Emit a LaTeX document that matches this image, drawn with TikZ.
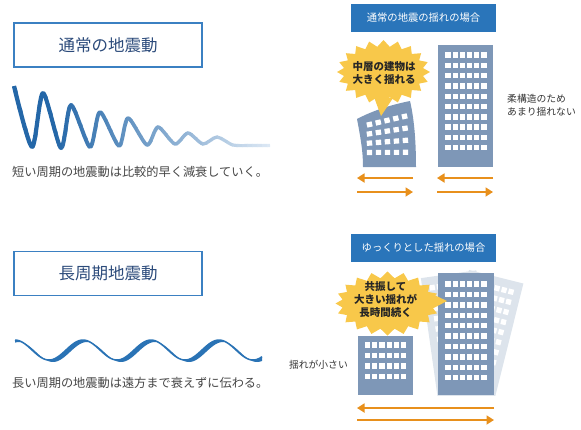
\documentclass[tikz,border=0pt]{standalone}
\usepackage{fontspec}
\newfontfamily\jp{Noto Sans CJK JP}
\usetikzlibrary{arrows.meta}

\definecolor{framecol}{HTML}{3B80C2}
\definecolor{titlecol}{HTML}{2B4A7A}
\definecolor{headcol}{HTML}{2A75BA}
\definecolor{bldcol}{HTML}{7E97B7}
\definecolor{ghostcol}{HTML}{DDE4EC}
\definecolor{burstcol}{HTML}{F8C84A}
\definecolor{arrowcol}{HTML}{E8901C}
\definecolor{captcol}{HTML}{454545}
\definecolor{qdark}{HTML}{2467A8}
\definecolor{qlight}{HTML}{DCE8F4}
\definecolor{wavecol}{HTML}{2A73B5}

\tikzset{
  titlebox/.style={draw=framecol, line width=1.8pt, minimum width=188pt,
    minimum height=44pt, inner sep=0pt, text=titlecol,
    font=\jp\fontsize{16.5}{18}\selectfont},
  headbox/.style={fill=headcol, minimum width=145pt, minimum height=28pt,
    inner sep=0pt, text=white, font=\jp\fontsize{10.3}{12}\selectfont},
  caption/.style={text=captcol, font=\jp\fontsize{12.2}{13}\selectfont,
    inner sep=0pt, anchor=west},
  note/.style={text=black!80, font=\jp\fontsize{9.8}{12}\selectfont,
    inner sep=0pt},
  bursttext/.style={text=black!85, font=\jp\bfseries\fontsize{10.5}{13}\selectfont,
    align=center, inner sep=0pt},
  winfill/.style={fill=white},
  shake/.style={draw=arrowcol, line width=1.7pt,
    -{Triangle[length=7.5pt,width=9pt]}},
}

\begin{document}
\begin{tikzpicture}[x=1pt, y=-1pt]
\useasboundingbox (0,0) rectangle (581,429);

% ---------- titles ----------
\node[titlebox] (shortT) at (108,45) {通常の地震動};
\node[titlebox] (longT) at (108,273.5) {長周期地震動};

% ---------- decaying short-period wave ----------
\foreach \i in {0,...,52} {
  \pgfmathsetmacro\xa{12+5*\i}
  \pgfmathtruncatemacro\p{max(0,min(100,(268-\xa)/2.15))}
  \pgfmathsetmacro\lw{4.3-\i*0.025}
  \begin{scope}
    \clip (\xa,70) rectangle ({\xa+5.5},160);
    \draw[qdark!\p!qlight, line width=\lw pt, line join=round]
      plot[smooth, tension=0.45] coordinates {(14,86) (32,147) (43,93) (61,148)
        (71,105) (90,147) (100,112) (119,146) (128,118) (147,145) (158,127)
        (175,144) (188,133) (203,144) (217,137) (233,145) (250,145.5) (270,145.5)};
  \end{scope}
}
\node[caption] (shortC) at (12,172) {短い周期の地震動は比較的早く減衰していく。};

% ---------- long-period ribbon wave (period 68) ----------
\fill[wavecol]
  plot[domain=15:262, samples=160] (\x, {350-10*cos(5.29412*(\x-15))})
  -- plot[domain=262:15, samples=160] (\x, {352-10*cos(5.29412*(\x-19))})
  -- cycle;
\draw[wavecol, line width=1.5pt]
  plot[domain=15:262, samples=160] (\x, {350-10*cos(5.29412*(\x-15))});
\node[caption] (longC) at (12,383) {長い周期の地震動は遠方まで衰えずに伝わる。};

% ---------- upper right: ordinary shaking ----------
\node[headbox] (headA) at (423.5,18) {通常の地震の揺れの場合};

% tall flexible building
\fill[bldcol] (438,45) rectangle (493,167);
\foreach \r in {0,...,9} \foreach \c in {0,...,5}
  \fill[winfill] ({448+7.2*\c-2.6},{55+10.3*\r-2.7}) rectangle ++(5.2,5.4);

% bending mid-rise building
\fill[bldcol] (363,167) -- (416,167)
  .. controls (416,140) and (414,118) .. (410,101)
  .. controls (390,105) and (372,111) .. (357,119)
  .. controls (360,135) and (363,150) .. (363,167) -- cycle;
\foreach \r in {0,...,3} \foreach \c in {0,...,4} {
  \pgfmathsetmacro\ang{13-4.3*\r}
  \pgfmathsetmacro\wx{369.5+9*\c*cos(\ang)}
  \pgfmathsetmacro\wy{124.5+9.3*\r-9*\c*sin(\ang)}
  \fill[winfill, rotate around={\ang:(\wx,\wy)}] (\wx-2.7,\wy-2.6) rectangle ++(5.4,5.2);
}

% speech burst
\fill[burstcol] (374,97) -- (381,116) -- (393,98) -- cycle;
\fill[burstcol] ({383.5+46.5},72)
  \foreach \a in {18,36,...,360} {
    -- ({383.5+40*cos(\a-9)},{72+25.5*sin(\a-9)})
    -- ({383.5+46.5*cos(\a)},{72+32*sin(\a)})
  } -- cycle;
\node[bursttext] (burstA) at (384,73.5) {中層の建物は\\大きく揺れる};

\node[note, anchor=west] (flexA) at (507,99) {柔構造のため};
\node[note, anchor=west] (flexB) at (507,112) {あまり揺れない};

% ground motion arrows
\coordinate (a1r) at (413,178); \coordinate (a1l) at (357,178);
\coordinate (a2l) at (357,192); \coordinate (a2r) at (413,192);
\coordinate (a3r) at (493,178); \coordinate (a3l) at (437,178);
\coordinate (a4l) at (437,192); \coordinate (a4r) at (493,192);
\draw[shake] (a1r) -- (a1l);
\draw[shake] (a2l) -- (a2r);
\draw[shake] (a3r) -- (a3l);
\draw[shake] (a4l) -- (a4r);

% ---------- lower right: slow shaking ----------
\node[headbox] (headB) at (423.5,247.5) {ゆっくりとした揺れの場合};

% swaying outlines of the tall building
\begin{scope}
  \clip (400,255) rectangle (560,395);
  \foreach \tilt in {8,-14} {
    \begin{scope}[rotate around={\tilt:(466,398)}]
      \fill[ghostcol] (438,273) rectangle (494,400);
      \foreach \r in {0,...,9} \foreach \c in {0,...,5}
        \fill[white] ({448+7.2*\c-2.6},{284+10.4*\r-2.7}) rectangle ++(5.2,5.4);
    \end{scope}
  }
\end{scope}

% tall building
\fill[bldcol] (438,273) rectangle (494,395);
\foreach \r in {0,...,9} \foreach \c in {0,...,5}
  \fill[winfill] ({448+7.2*\c-2.6},{284+10.4*\r-2.7}) rectangle ++(5.2,5.4);

% low building
\fill[bldcol] (358,336) rectangle (413,395);
\foreach \r in {0,...,3} \foreach \c in {0,...,5}
  \fill[winfill] ({367.5+7.2*\c-2.6},{345+10.5*\r-2.7}) rectangle ++(5.2,5.4);

% speech burst
\fill[burstcol] (428,292) -- (447,301) -- (428,311) -- cycle;
\fill[burstcol] ({387.5+52},303.5)
  \foreach \a in {18,36,...,360} {
    -- ({387.5+45.5*cos(\a-9)},{303.5+25.5*sin(\a-9)})
    -- ({387.5+52*cos(\a)},{303.5+32*sin(\a)})
  } -- cycle;
\node[bursttext] (burstB) at (385.5,299.5) {共振して\\大きい揺れが\\長時間続く};

\node[note, anchor=east] (lowN) at (348,365) {揺れが小さい};

\coordinate (b1r) at (494,408); \coordinate (b1l) at (357,408);
\coordinate (b2l) at (357,420); \coordinate (b2r) at (494,420);
\draw[shake] (b1r) -- (b1l);
\draw[shake] (b2l) -- (b2r);

\end{tikzpicture}
\end{document}
